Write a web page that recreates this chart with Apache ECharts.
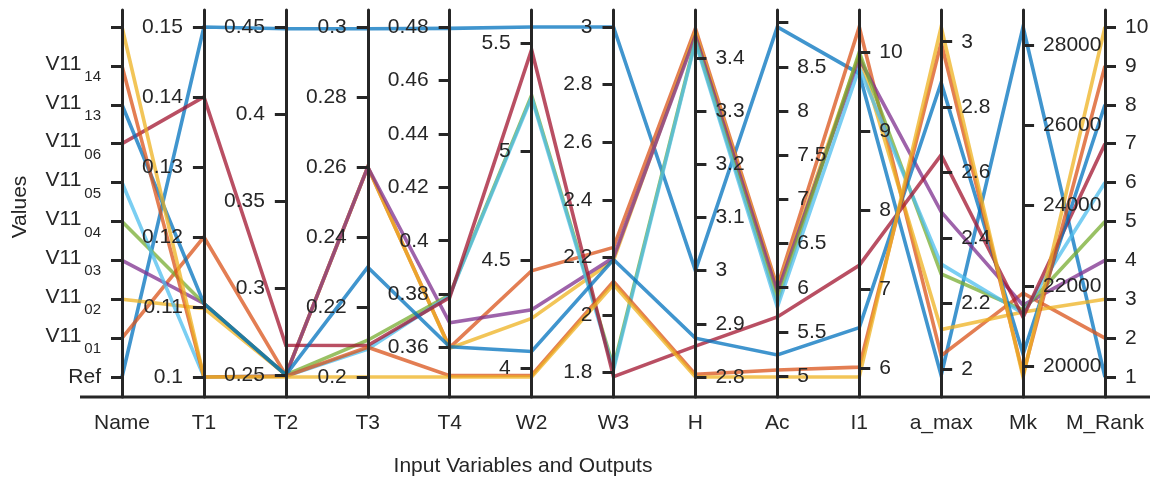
<!DOCTYPE html>
<html>
<head>
<meta charset="utf-8">
<script src="https://cdn.jsdelivr.net/npm/echarts@6/dist/echarts.min.js"></script>
<style>
  html, body { margin: 0; padding: 0; background: #ffffff; }
  #chart { width: 1153px; height: 480px; }
</style>
</head>
<body>
<div id="chart"></div>
<script>
// Design names (one polyline each), the last one carries no label
const names = ['Ref', 'V11_01', 'V11_02', 'V11_03', 'V11_04', 'V11_05', 'V11_06', 'V11_13', 'V11_14', ''];
const dimNames = ['Name', 'T1', 'T2', 'T3', 'T4', 'W2', 'W3', 'H', 'Ac', 'I1', 'a_max', 'Mk', 'M_Rank'];

// Input variables and outputs, one entry per design (same order as names)
const T1    = [0.15, 0.12, 0.1098, 0.1105, 0.1105, 0.1, 0.14, 0.1105, 0.1, 0.1];
const T2    = [0.449, 0.25, 0.2502, 0.2502, 0.2502, 0.2495, 0.2672, 0.2502, 0.2495, 0.249];
const T3    = [0.2995, 0.26, 0.26, 0.26, 0.2105, 0.208, 0.209, 0.2314, 0.2085, 0.2];
const T4    = [0.4795, 0.36, 0.3598, 0.3693, 0.3798, 0.3795, 0.3787, 0.3603, 0.3495, 0.349];
const W2    = [5.575, 4.45, 4.23, 4.27, 5.26, 5.25, 5.47, 4.078, 3.968, 3.96];
const W3    = [3.0, 2.235, 2.19, 2.2, 1.82, 1.81, 1.786, 2.193, 2.117, 2.106];
const H     = [3.0, 3.455, 3.448, 3.442, 3.433, 3.43, 2.858, 2.873, 2.805, 2.8];
const Ac    = [8.95, 6.01, 5.98, 5.95, 5.84, 5.78, 5.67, 5.24, 5.07, 4.99];
const I1    = [9.73, 10.32, 9.97, 9.92, 10.0, 9.8, 7.3, 6.51, 6.01, 5.885];
const aMax  = [1.98, 2.04, 2.12, 2.48, 2.29, 2.32, 2.654, 2.875, 2.997, 3.045];
const Mk    = [28450, 21820, 21350, 21520, 21400, 21320, 21220, 20300, 19800, 19730];
const MRank = [1, 2, 3, 4, 5, 6, 7, 8, 9, 10];

// Data extent of every axis (low / high), in dimension order
const axisLow  = [0, 0.1, 0.249, 0.2, 0.349, 3.96, 1.785, 2.8, 4.99, 5.885, 1.975, 19730, 1];
const axisHigh = [9, 0.15, 0.45, 0.3, 0.48, 5.575, 3.0, 3.458, 8.95, 10.32, 3.045, 28450, 10];

// Tick positions and labelled values per axis
const nameTicks  = [0, 1, 2, 3, 4, 5, 6, 7, 8, 9];
const t1Ticks    = [0.1, 0.11, 0.12, 0.13, 0.14, 0.15];
const t2Ticks    = [0.25, 0.3, 0.35, 0.4, 0.45];
const t3Ticks    = [0.2, 0.22, 0.24, 0.26, 0.28, 0.3];
const t4Ticks    = [0.36, 0.38, 0.4, 0.42, 0.44, 0.46, 0.48];
const w2Ticks    = [4, 4.5, 5, 5.5];
const w3Ticks    = [1.8, 2, 2.2, 2.4, 2.6, 2.8, 3];
const hTicks     = [2.8, 2.9, 3, 3.1, 3.2, 3.3, 3.4];
const acTicks    = [5, 5.5, 6, 6.5, 7, 7.5, 8, 8.5, 9];
const acLabels   = [5, 5.5, 6, 6.5, 7, 7.5, 8, 8.5];
const i1Ticks    = [6, 7, 8, 9, 10];
const aMaxTicks  = [2, 2.2, 2.4, 2.6, 2.8, 3];
const mkTicks    = [20000, 22000, 24000, 26000, 28000];
const rankTicks  = [1, 2, 3, 4, 5, 6, 7, 8, 9, 10];

const tickSets  = [nameTicks, t1Ticks, t2Ticks, t3Ticks, t4Ticks, w2Ticks, w3Ticks, hTicks, acTicks, i1Ticks, aMaxTicks, mkTicks, rankTicks];
const labelSets = [nameTicks, t1Ticks, t2Ticks, t3Ticks, t4Ticks, w2Ticks, w3Ticks, hTicks, acLabels, i1Ticks, aMaxTicks, mkTicks, rankTicks];
const columns   = [T1, T2, T3, T4, W2, W3, H, Ac, I1, aMax, Mk, MRank];

const palette = ['#0072BD', '#D95319', '#EDB120', '#7E2F8E', '#77AC30', '#4DBEEE', '#A2142F'];
const ink = '#262626';
const font = '"Liberation Sans", Arial, Helvetica, sans-serif';

// the first seven axes carry their ticks and labels on the left side
const leftSided = 7;

function nameLabel(v) {
  const n = names[Math.round(v)];
  if (!n) return '';
  const parts = n.split('_');
  if (parts.length < 2) return '{r|' + n + '}';
  return '{m|' + parts[0] + '}{s|' + parts[1] + '}';
}

const parallelAxis = dimNames.map((dim, i) => {
  const span = axisHigh[i] - axisLow[i];
  const left = i < leftSided;
  return {
    dim: i,
    name: dim,
    type: 'value',
    min: axisLow[i] - span * 20 / 350,
    max: axisHigh[i] + span * 17 / 350,
    nameLocation: 'start',
    nameGap: 16,
    nameTextStyle: { color: ink, fontSize: 21, fontFamily: font },
    axisLine: { show: true, lineStyle: { color: ink, width: 3 } },
    axisTick: {
      show: true,
      length: left ? -11 : 11,
      lineStyle: { color: ink, width: 3 },
      customValues: tickSets[i]
    },
    axisLabel: {
      show: true,
      margin: left ? -21 : 20,
      align: left ? 'right' : 'left',
      color: ink,
      fontSize: 21,
      fontFamily: font,
      customValues: labelSets[i],
      formatter: i === 0 ? nameLabel : (v) => String(v),
      rich: i === 0 ? {
        r: { fontSize: 21, fontFamily: font, color: ink, lineHeight: 22 },
        m: { fontSize: 21, fontFamily: font, color: ink, lineHeight: 22, padding: [0, 0, 4, 0] },
        s: { fontSize: 15, fontFamily: font, color: ink, lineHeight: 16, padding: [22, 0, 0, 3] }
      } : undefined
    }
  };
});

const series = names.map((n, i) => ({
  type: 'parallel',
  name: n || 'design',
  data: [[i].concat(columns.map(col => col[i]))],
  lineStyle: { color: palette[i % palette.length], width: 3.6, opacity: 0.75 },
  emphasis: { disabled: true },
  silent: true
}));

const chart = echarts.init(document.getElementById('chart'), null, { renderer: 'canvas' });
chart.setOption({
  animation: false,
  backgroundColor: '#ffffff',
  parallel: {
    left: 122,
    right: 48,
    top: 10,
    bottom: 83,
    layout: 'horizontal'
  },
  parallelAxis: parallelAxis,
  series: series,
  graphic: [
    {
      type: 'line',
      shape: { x1: 80, y1: 397, x2: 1150, y2: 397 },
      style: { stroke: ink, lineWidth: 3 },
      z: 0
    },
    {
      type: 'text',
      x: 20, y: 207,
      rotation: Math.PI / 2,
      style: { text: 'Values', fill: ink, font: '21px ' + font, align: 'center', verticalAlign: 'middle' }
    },
    {
      type: 'text',
      x: 523, y: 466,
      style: { text: 'Input Variables and Outputs', fill: ink, font: '21px ' + font, align: 'center', verticalAlign: 'middle' }
    }
  ]
});
</script>
</body>
</html>
